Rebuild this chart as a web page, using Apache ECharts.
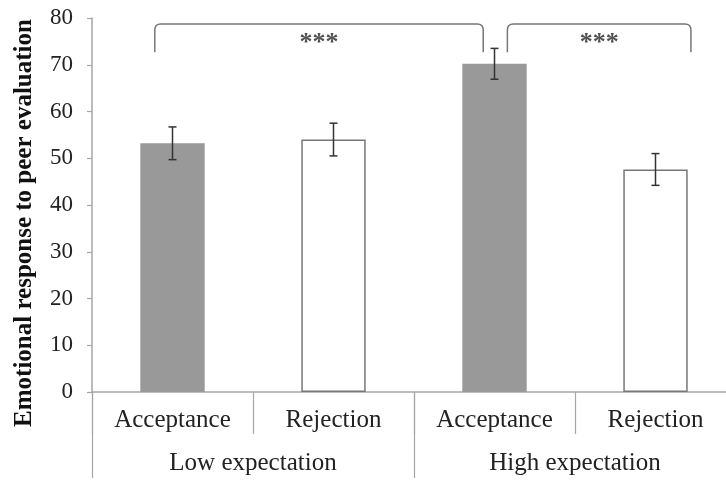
<!DOCTYPE html>
<html>
<head>
<meta charset="utf-8">
<script src="https://cdn.jsdelivr.net/npm/echarts@6/dist/echarts.min.js"></script>
<style>
    html, body { margin: 0; padding: 0; background: #fff; overflow: hidden; }
    /* the plot runs a little past the right edge of the picture, as in the original */
    #chart { width: 736px; height: 480px; }
</style>
</head>
<body>
<div id="chart"></div>
<script>
// data
const categories = ['Acceptance', 'Rejection', 'Acceptance', 'Rejection'];
const groups = ['Low expectation', 'High expectation'];
const means = [53.2, 54.0, 70.2, 47.6];
const errors = [3.5, 3.5, 3.3, 3.4];
const yTicks = [0, 10, 20, 30, 40, 50, 60, 70, 80];
// brackets: [from, to] on a 0..4 scale across the categories, top value, end value, text
const bracketFrom = [0.39, 2.58];
const bracketTo = [2.43, 3.72];
const bracketTop = [78.7, 78.7];
const bracketEnd = [72.7, 72.7];
const bracketText = ['***', '***'];

const font = 'Liberation Serif';
const axisGray = '#a6a6a6';

var myChart = echarts.init(document.getElementById('chart'));

const barData = means.map(function (v, i) {
    const filled = i % 2 === 0;
    return {
        value: v,
        itemStyle: filled
            ? { color: '#999999', borderWidth: 0 }
            : { color: '#ffffff', borderColor: '#777777', borderWidth: 1.5 }
    };
});

const errData = means.map(function (v, i) {
    return [i, v - errors[i], v + errors[i]];
});

const bracketData = bracketFrom.map(function (v, i) {
    return [v, bracketTo[i], bracketTop[i], bracketEnd[i], bracketText[i]];
});

myChart.setOption({
    animation: false,
    grid: {
        left: 92,
        top: 18,
        right: 0,
        bottom: 88
    },
    xAxis: [
        {
            type: 'category',
            data: categories,
            axisLine: { lineStyle: { color: axisGray, width: 1.5 } },
            axisTick: { show: true, interval: 0, length: 42, lineStyle: { color: axisGray, width: 1.2 } },
            axisLabel: { interval: 0, margin: 16, fontFamily: font, fontSize: 25, color: '#222' }
        },
        {
            type: 'category',
            data: groups,
            position: 'bottom',
            axisLine: { show: false },
            axisTick: { show: true, interval: 0, length: 86, lineStyle: { color: axisGray, width: 1.2 } },
            axisLabel: { interval: 0, margin: 59, fontFamily: font, fontSize: 25, color: '#222' }
        },
        {
            type: 'value',
            min: 0,
            max: 4,
            show: false
        }
    ],
    yAxis: {
        type: 'value',
        min: yTicks[0],
        max: yTicks[yTicks.length - 1],
        interval: 10,
        splitLine: { show: false },
        axisLine: { show: true, lineStyle: { color: axisGray, width: 1.5 } },
        axisTick: { show: true, length: 5, lineStyle: { color: axisGray, width: 1.2 } },
        axisLabel: { margin: 19, fontFamily: font, fontSize: 23, color: '#222' }
    },
    graphic: [
        {
            type: 'text',
            x: 25,
            y: 223,
            rotation: Math.PI / 2,
            style: {
                text: 'Emotional response to peer evaluation',
                fontFamily: font,
                fontSize: 25,
                fontWeight: 'bold',
                fill: '#111',
                textAlign: 'center',
                textVerticalAlign: 'middle'
            }
        }
    ],
    series: [
        {
            type: 'bar',
            data: barData,
            barWidth: '40%',
            xAxisIndex: 0
        },
        {
            type: 'custom',
            xAxisIndex: 0,
            data: errData,
            encode: { x: 0, y: [1, 2] },
            z: 5,
            renderItem: function (params, api) {
                const lo = api.coord([api.value(0), api.value(1)]);
                const hi = api.coord([api.value(0), api.value(2)]);
                const cap = 4;
                const st = { stroke: '#333', lineWidth: 1.5 };
                return {
                    type: 'group',
                    children: [
                        { type: 'line', shape: { x1: lo[0], y1: lo[1], x2: hi[0], y2: hi[1] }, style: st },
                        { type: 'line', shape: { x1: lo[0] - cap, y1: lo[1], x2: lo[0] + cap, y2: lo[1] }, style: st },
                        { type: 'line', shape: { x1: hi[0] - cap, y1: hi[1], x2: hi[0] + cap, y2: hi[1] }, style: st }
                    ]
                };
            }
        },
        {
            type: 'custom',
            xAxisIndex: 2,
            data: bracketData,
            encode: { x: [0, 1], y: [2, 3] },
            z: 5,
            renderItem: function (params, api) {
                const a = api.coord([api.value(0), api.value(2)]);
                const b = api.coord([api.value(1), api.value(3)]);
                const x1 = a[0], x2 = b[0], yt = a[1], yb = b[1];
                const r = 6;
                const d = 'M' + x1 + ',' + yb +
                    ' L' + x1 + ',' + (yt + r) +
                    ' Q' + x1 + ',' + yt + ' ' + (x1 + r) + ',' + yt +
                    ' L' + (x2 - r) + ',' + yt +
                    ' Q' + x2 + ',' + yt + ' ' + x2 + ',' + (yt + r) +
                    ' L' + x2 + ',' + yb;
                return {
                    type: 'group',
                    children: [
                        {
                            type: 'path',
                            shape: { pathData: d },
                            style: { stroke: '#777', lineWidth: 1.5, fill: null }
                        },
                        {
                            type: 'text',
                            x: (x1 + x2) / 2,
                            y: yt + 19,
                            style: {
                                text: api.value(4),
                                fontFamily: font,
                                fontSize: 26,
                                fontWeight: 'bold',
                                fill: '#505050',
                                textAlign: 'center',
                                textVerticalAlign: 'middle'
                            }
                        }
                    ]
                };
            }
        }
    ]
});
</script>
</body>
</html>
